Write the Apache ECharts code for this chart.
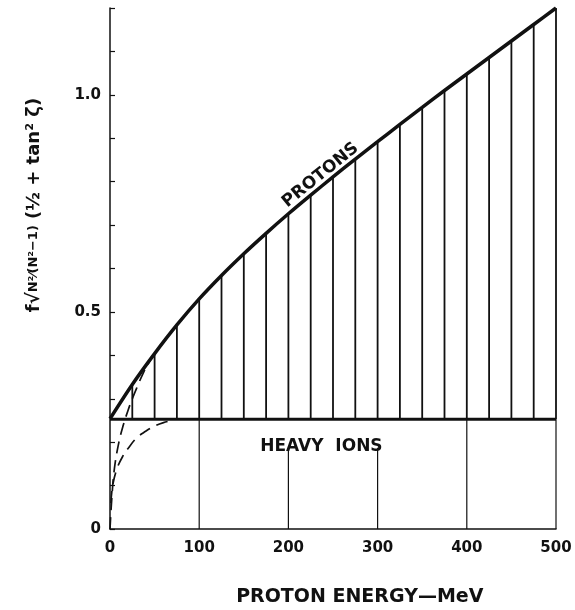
<!DOCTYPE html>
<html>
<head>
<meta charset="utf-8">
<script src="https://cdn.jsdelivr.net/npm/echarts@6/dist/echarts.min.js"></script>
<style>html,body{margin:0;padding:0;background:#fff;}#c{width:575px;height:610px;}</style>
</head>
<body>
<div id="c"></div>
<script>
// ---- data ----
const energy = [0,25,50,75,100,125,150,175,200,225,250,275,300,325,350,375,400,425,450,475,500];
const protons = [0.254,0.333,0.404,0.470,0.530,0.584,0.634,0.681,0.726,0.769,0.811,0.852,0.892,0.932,0.971,1.010,1.048,1.086,1.124,1.162,1.200];
const heavyLevel = 0.253;
const heavyE = [0, 500];
const heavyVals = [0.253, 0.253];
const dashProtonE = [0, 2, 5, 10, 15, 20, 25, 30, 37, 44, 50];
const dashProtonVals = [0.0, 0.07, 0.14, 0.2, 0.24, 0.272, 0.30, 0.325, 0.358, 0.385, 0.404];
const dashHeavyE = [1, 3, 8, 15, 20, 30, 40, 50, 60, 70];
const dashHeavyVals = [0.06, 0.1, 0.14, 0.17, 0.185, 0.21, 0.225, 0.237, 0.245, 0.25];
const gridLineE = [100, 200, 300, 400, 500];
const gridLineTop = [0.253, 0.187, 0.187, 0.253, 0.253];
const yTickLabels = {'0': '0', '0.5': '0.5', '1': '1.0'};
const xTitle = 'PROTON ENERGY—MeV';
const protonsLabel = 'PROTONS';
const heavyLabel = 'HEAVY  IONS';

const ink = '#111';
const FONT = 'DejaVu Sans';
const chart = echarts.init(document.getElementById('c'));

const hatchData = energy.slice(1).map((e, i) => [e, protons[i + 1]]);
const gridData = gridLineE.map((e, i) => [e, gridLineTop[i]]);

chart.setOption({
  animation: false,
  backgroundColor: '#fff',
  grid: {left: 110, right: 19, top: 8, bottom: 81},
  xAxis: {
    type: 'value', min: 0, max: 500, interval: 100,
    axisLine: {show: true, lineStyle: {color: ink, width: 1.5}},
    axisTick: {show: false},
    splitLine: {show: false},
    axisLabel: {color: ink, fontFamily: FONT, fontWeight: 'bold', fontSize: 15, margin: 12}
  },
  yAxis: {
    type: 'value', min: 0, max: 1.2, interval: 0.1,
    axisLine: {show: true, lineStyle: {color: ink, width: 1.5}},
    axisTick: {show: true, inside: true, length: 5, lineStyle: {color: ink, width: 1.2}},
    splitLine: {show: false},
    axisLabel: {
      color: ink, fontFamily: FONT, fontWeight: 'bold', fontSize: 15, margin: 9,
      formatter: v => { const k = String(Math.round(v * 10) / 10); return yTickLabels[k] !== undefined ? yTickLabels[k] : ''; }
    }
  },
  series: [
    {
      type: 'custom', data: gridData, z: 1,
      renderItem: (params, api) => {
        const x = api.value(0), t = api.value(1);
        const p1 = api.coord([x, 0]), p2 = api.coord([x, t]);
        return {type: 'line', shape: {x1: p1[0], y1: p1[1], x2: p2[0], y2: p2[1]}, style: {stroke: ink, lineWidth: 1.2}};
      }
    },
    {
      type: 'custom', data: hatchData, z: 2,
      renderItem: (params, api) => {
        const x = api.value(0), t = api.value(1);
        const p1 = api.coord([x, heavyLevel]), p2 = api.coord([x, t]);
        return {type: 'line', shape: {x1: p1[0], y1: p1[1], x2: p2[0], y2: p2[1]}, style: {stroke: ink, lineWidth: 1.8}};
      }
    },
    {
      type: 'line', data: energy.map((e, i) => [e, protons[i]]), smooth: 0.3, symbol: 'none', z: 4,
      lineStyle: {color: ink, width: 3.5}
    },
    {
      type: 'line', data: heavyE.map((e, i) => [e, heavyVals[i]]), symbol: 'none', z: 4,
      lineStyle: {color: ink, width: 3}
    },
    {
      type: 'line', data: dashProtonE.map((e, i) => [e, dashProtonVals[i]]), smooth: 0.4, symbol: 'none', z: 3,
      lineStyle: {color: ink, width: 1.7, type: [12, 7]}
    },
    {
      type: 'line', data: dashHeavyE.map((e, i) => [e, dashHeavyVals[i]]), smooth: 0.4, symbol: 'none', z: 3,
      lineStyle: {color: ink, width: 1.7, type: [12, 7]}
    }
  ]
});

const pT = chart.convertToPixel({gridIndex: 0}, [280, 0]);
const pP = chart.convertToPixel({gridIndex: 0}, [236, 0.815]);
const pH = chart.convertToPixel({gridIndex: 0}, [237, 0.19]);
chart.setOption({
  graphic: [
    {type: 'text', x: pT[0], y: pT[1] + 68, style: {text: xTitle, fill: ink, font: 'bold 19px "DejaVu Sans"', align: 'center', verticalAlign: 'middle'}},
    {type: 'text', x: pP[0], y: pP[1], rotation: 39 * Math.PI / 180, style: {text: protonsLabel, fill: ink, font: 'bold 17px "DejaVu Sans"', align: 'center', verticalAlign: 'middle'}},
    {type: 'text', x: pH[0], y: pH[1], style: {text: heavyLabel, fill: ink, font: 'bold 17px "DejaVu Sans"', align: 'center', verticalAlign: 'middle'}},
    {type: 'text', x: 34, y: 205, rotation: Math.PI / 2, style: {
      text: '{a|f√}{b|N²⁄(N²−1)}{a| (½ + tan² ζ)}',
      align: 'center', verticalAlign: 'middle',
      rich: {
        a: {fontFamily: FONT, fontWeight: 'bold', fontSize: 18, fill: ink},
        b: {fontFamily: FONT, fontWeight: 'bold', fontSize: 13, fill: ink, textDecoration: 'overline'}
      }
    }}
  ]
});
</script>
</body>
</html>
